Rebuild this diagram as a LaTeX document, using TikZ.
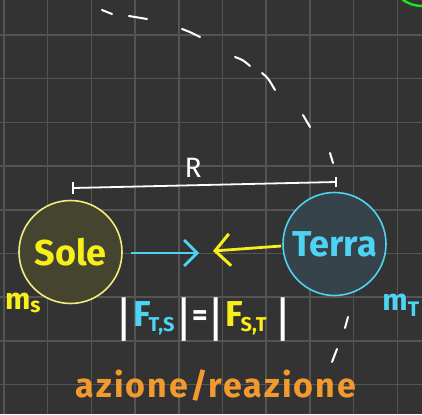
\documentclass[tikz,border=0pt]{standalone}
\usepackage{fontspec}
\setmainfont{Fira Sans}
\usetikzlibrary{arrows.meta}
\definecolor{bg}{HTML}{333333}
\definecolor{gridc}{HTML}{545454}
\definecolor{fcyan}{HTML}{4FD3F2}
\definecolor{fyel}{HTML}{F8EE1A}
\definecolor{sunline}{HTML}{F2EC80}
\definecolor{sunfill}{HTML}{45452F}
\definecolor{earthfill}{HTML}{36434B}
\definecolor{orng}{HTML}{F29A2E}
\definecolor{grn}{HTML}{19E619}
\tikzset{
  gridline/.style={gridc, line width=1.5pt},
  dashseg/.style={white, line width=2pt, line cap=round},
  body/.style={circle, minimum size=103pt, inner sep=0pt, line width=1.6pt},
  bigtext/.style={font=\fontsize{36}{40}\selectfont\bfseries},
  barsym/.style={white, inner sep=0pt, font=\fontsize{48}{48}\selectfont},
  fsym/.style={inner sep=0pt, anchor=base west, font=\fontsize{36}{36}\selectfont\bfseries},
}
\begin{document}
\begin{tikzpicture}[x=1pt,y=-1pt]
\fill[bg] (0,0) rectangle (422,414);
\useasboundingbox (0,0) rectangle (422,414);
% grid
\foreach \i in {0,...,9} \draw[gridline] ({4+43.7*\i},0) -- ({4+43.7*\i},414);
\foreach \j in {1,...,9} \draw[gridline] (0,{-8.7+43.7*\j}) -- (422,{-8.7+43.7*\j});
% green arc in corner
\draw[grn, line width=2.4pt, line cap=round] (402,-1) .. controls (408,4) and (415,6) .. (423,6);
% dashed orbit
\draw[dashseg] (102,10) -- (112,14);
\draw[dashseg] (129,16) -- (147,19);
\draw[dashseg] (182,29) .. controls (190,32) .. (200,37);
\draw[dashseg] (235,57) .. controls (243,60) .. (250,66);
\draw[dashseg] (262,73) .. controls (268,78) .. (275,90);
\draw[dashseg] (303,115) -- (310,127);
\draw[dashseg] (330,153) -- (333,163);
\draw[dashseg] (348,317) -- (345,328);
\draw[dashseg] (337,349) -- (332,362);
% bodies
\node[body, draw=sunline, fill=sunfill, text=fyel, bigtext] (sole) at (70.5,252) {Sole};
\node[body, draw=fcyan, fill=earthfill, text=fcyan, bigtext] (terra) at (334.5,244) {Terra};
% distance R
\coordinate (rl) at (73,188);
\coordinate (rr) at (336,182);
\draw[white, line width=1.8pt] (rl) -- (rr);
\draw[white, line width=1.8pt] ([yshift=-6pt]rl) -- ([yshift=6pt]rl);
\draw[white, line width=1.8pt] ([yshift=-5pt]rr) -- ([yshift=5pt]rr);
\node[white, font=\fontsize{28}{30}\selectfont] (R) at (193,168) {R};
% forces
\coordinate (fa) at (199,253);
\coordinate (fb) at (213,251);
\draw[fcyan, line width=2.6pt, -{Straight Barb[length=13pt,width=26pt,line width=2.8pt]}] (sole.east) ++(8,1) -- (fa);
\draw[fyel, line width=2.8pt, -{Straight Barb[length=15pt,width=32pt,line width=3pt]}] (terra.west) ++(-1,2) -- (fb);
% masses
\node[fyel, font=\fontsize{30}{32}\selectfont\bfseries] (ms) at (23,303) {m\textsubscript{s}};
\node[fcyan, font=\fontsize{30}{32}\selectfont\bfseries] (mt) at (401,305) {m\textsubscript{T}};
% equation
\node[barsym] (b1) at (124,320) {|};
\node[fsym, text=fcyan] (fts) at (133,326) {F\kern-2pt\textsubscript{\fontsize{20}{20}\selectfont T,S}};
\node[barsym] (b2) at (184,320) {|};
\node[white, inner sep=0pt, font=\fontsize{30}{30}\selectfont\bfseries] (eqs) at (200,318) {=};
\node[barsym] (b3) at (216,320) {|};
\node[fsym, text=fyel] (fst) at (225,326) {F\kern-2pt\textsubscript{\fontsize{20}{20}\selectfont S,T}};
\node[barsym] (b4) at (283,320) {|};
% label
\node[orng, font=\fontsize{34}{36}\selectfont\bfseries\addfontfeature{LetterSpace=6}] (ar) at (216,386) {azione/reazione};
\end{tikzpicture}
\end{document}
